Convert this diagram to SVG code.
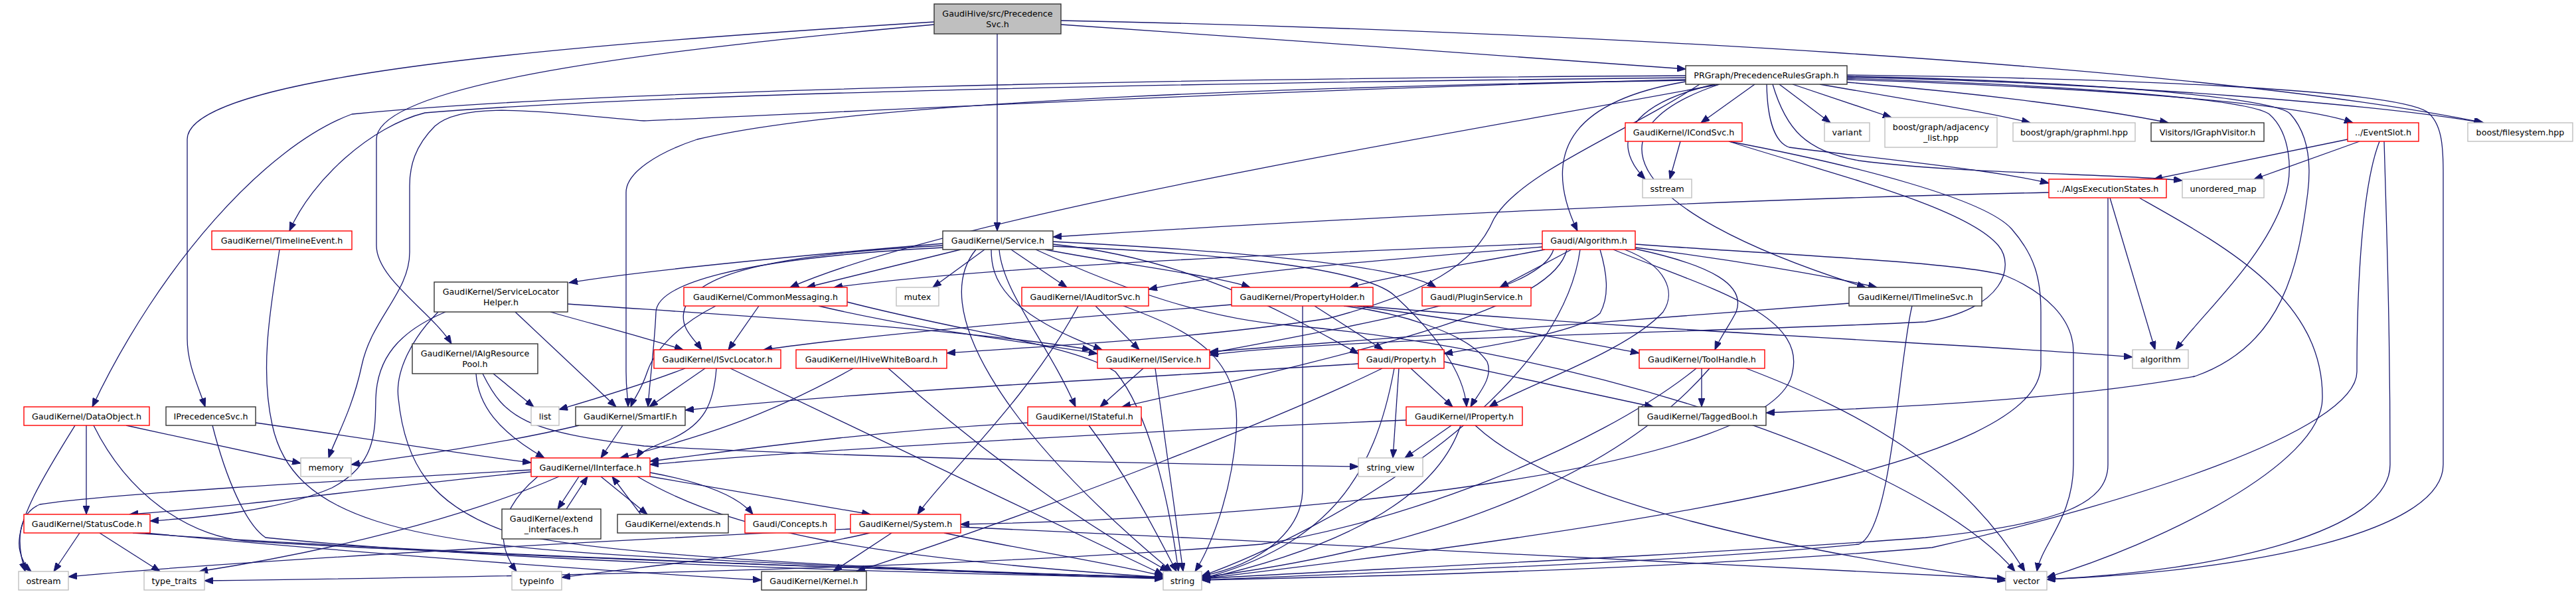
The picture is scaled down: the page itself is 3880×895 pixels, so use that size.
<svg xmlns="http://www.w3.org/2000/svg" width="3880" height="895" viewBox="0 0 3880 895">
<defs>
<marker id="a" markerWidth="14" markerHeight="10" refX="13" refY="5" orient="auto" markerUnits="userSpaceOnUse"><path d="M0,0 L13,5 L0,10 z" fill="#191970" stroke="#191970" stroke-width="1"/></marker>
<style>
.e path{fill:none;stroke:#191970;stroke-width:1.3;marker-end:url(#a)}
.n rect{fill:#fff;stroke:#333;stroke-width:1.4}
.r rect{stroke:#ff0000}
.g rect{stroke:#bfbfbf}
#n_psvc rect{fill:#bfbfbf}
text{font-family:"DejaVu Sans","Liberation Sans",sans-serif;font-size:12.7px;text-anchor:middle;fill:#000}
</style>
</defs>
<rect width="3880" height="895" fill="#fff"/>
<g id="edges" class="e">
<path d="M1598,37 C1900,58 2300,86 2539,104"/>
<path d="M1598,31 C2300,45 3300,95 3741,185"/>
<path d="M1502,51 L1502,348"/>
<path d="M1407,33 C900,65 282,110 282,210 L282,510 C282,550 300,585 309,613"/>
<path d="M1407,37 C1050,70 567,120 567,210 L567,370 C567,420 650,470 680,518"/>
<path d="M2590,127 C2200,200 1450,320 1190,433"/>
<path d="M2539,117 C1800,125 1000,140 640,170 C560,190 470,270 436,348"/>
<path d="M2539,114 C1800,118 900,135 530,172 C400,220 240,400 139,613"/>
<path d="M2539,120 C1900,135 1150,175 970,182 C820,170 700,150 655,190 C625,220 617,250 617,280 L617,380 C617,440 560,480 545,550 C530,620 505,660 495,690"/>
<path d="M2643,127 L2562,185"/>
<path d="M2680,127 L2757,185"/>
<path d="M2700,127 L2849,177"/>
<path d="M2741,127 C2860,148 2990,168 3058,185"/>
<path d="M2782,124 C2980,140 3170,165 3266,185"/>
<path d="M2782,120 C3100,130 3450,152 3544,185"/>
<path d="M2782,116 C3200,125 3600,160 3739,185"/>
<path d="M2583,127 C2460,155 2420,210 2478,270"/>
<path d="M2539,123 C2380,150 2315,220 2376,348"/>
<path d="M2590,127 C2400,190 2420,310 2810,433"/>
<path d="M2661,127 C2662,185 2675,215 2695,222 C2800,236 3000,255 3086,276"/>
<path d="M2670,127 C2690,195 2720,228 2800,242 C2950,262 3200,262 3287,272"/>
<path d="M2782,113 C3200,118 3600,135 3655,168 C3678,185 3680,220 3680,260 L3680,700 C3680,800 3400,860 3083,873"/>
<path d="M2782,118 C3100,128 3385,148 3418,172 C3450,200 3455,260 3440,300 C3410,390 3320,470 3277,527"/>
<path d="M2782,115 C3150,122 3430,148 3450,172 C3475,200 3482,240 3476,290 C3462,400 3440,520 3306,567 C3100,605 2800,616 2660,622"/>
<path d="M2560,127 C2450,200 2290,260 2250,330 C2220,400 2150,440 2000,480 C1800,510 1600,520 1426,532"/>
<path d="M2539,121 C2000,130 1300,150 1050,210 C990,230 943,260 943,290 L943,560 C943,590 946,600 946,613"/>
<path d="M1420,367 C1200,385 950,410 857,426"/>
<path d="M1420,370 C1130,385 1040,420 1030,470 C1025,495 1045,510 1057,527"/>
<path d="M1420,373 C1100,390 990,430 988,470 C986,520 978,580 976,613"/>
<path d="M1447,376 L1215,433"/>
<path d="M1483,376 L1405,433"/>
<path d="M1523,376 L1607,433"/>
<path d="M1574,376 C1700,400 1830,415 1883,433"/>
<path d="M1493,376 C1493,420 1510,470 1660,527"/>
<path d="M1505,376 C1510,440 1580,520 1620,613"/>
<path d="M1586,364 C1800,375 2100,395 2163,433"/>
<path d="M1586,368 C1800,390 1950,480 2046,533"/>
<path d="M1586,371 C1800,380 2050,400 2100,445 C2160,500 2205,560 2209,613"/>
<path d="M1470,376 C1400,460 1500,640 1765,861"/>
<path d="M1560,376 C1700,440 1820,480 1940,490 C2400,530 2900,700 3035,861"/>
<path d="M2323,367 C2000,380 1500,400 1256,433"/>
<path d="M2323,372 C2100,390 1850,410 1730,436"/>
<path d="M2327,376 C2200,400 2100,415 2033,433"/>
<path d="M2367,376 L2259,433"/>
<path d="M2463,373 C2600,390 2750,415 2827,433"/>
<path d="M2410,376 C2420,410 2425,445 2410,472 C2380,500 2250,520 2175,533"/>
<path d="M2447,376 C2510,400 2525,440 2505,470 C2450,530 2300,580 2243,613"/>
<path d="M2463,375 C2580,400 2630,430 2615,470 C2605,490 2590,510 2583,527"/>
<path d="M2340,376 C2320,440 2100,480 1822,532"/>
<path d="M2360,376 C2340,460 2100,520 1690,613"/>
<path d="M2380,376 C2350,600 2000,800 1810,868"/>
<path d="M2463,368 C2700,385 2950,395 3020,415 C3080,440 3123,480 3123,530 L3123,700 C3123,780 3075,820 3068,861"/>
<path d="M2430,376 C2560,430 2720,470 2700,560 C2680,700 2000,780 1447,790"/>
<path d="M2563,555 L2563,613"/>
<path d="M2555,555 C2400,680 2100,790 1900,820 C1400,860 700,870 308,875"/>
<path d="M2575,555 C2450,700 2200,820 1810,870"/>
<path d="M2630,555 C2800,620 2950,700 3050,861"/>
<path d="M2125,555 L2188,613"/>
<path d="M2107,555 L2098,690"/>
<path d="M2175,545 L2490,613"/>
<path d="M2046,548 C1700,570 1300,590 1032,618"/>
<path d="M2082,555 C1950,620 1600,760 1290,861"/>
<path d="M2100,555 C2070,720 2000,820 1810,872"/>
<path d="M2118,633 C1700,650 1200,680 979,700"/>
<path d="M2186,641 L2116,690"/>
<path d="M2200,641 C2160,760 2000,830 1810,873"/>
<path d="M2222,641 C2350,760 2700,830 3021,875"/>
<path d="M1980,461 L2083,527"/>
<path d="M2024,461 C2100,470 2210,500 2240,545 C2250,570 2225,595 2215,613"/>
<path d="M2040,461 C2200,480 2350,510 2469,532"/>
<path d="M2053,461 C2500,500 3000,520 3212,538"/>
<path d="M1855,459 C1600,480 1300,505 1150,527"/>
<path d="M1962,461 L1962,740 C1960,800 1900,850 1810,868"/>
<path d="M1143,461 L1097,527"/>
<path d="M1078,461 C1020,490 985,530 975,560 C965,590 955,600 950,613"/>
<path d="M1233,461 C1400,500 1550,515 1653,533"/>
<path d="M1276,455 C1450,500 1620,520 1680,560 C1730,620 1760,750 1775,861"/>
<path d="M1032,555 C980,575 900,600 842,617"/>
<path d="M1062,555 L978,613"/>
<path d="M1079,555 C1075,610 1060,640 1010,662 C985,672 965,680 959,690"/>
<path d="M1100,555 L1752,866"/>
<path d="M1285,555 C1150,630 1050,660 934,690"/>
<path d="M1338,555 C1500,700 1650,800 1760,861"/>
<path d="M1722,555 L1657,613"/>
<path d="M1740,555 L1782,861"/>
<path d="M1548,637 C1300,650 1100,680 979,695"/>
<path d="M1640,641 C1700,720 1740,800 1772,861"/>
<path d="M1650,461 L1716,527"/>
<path d="M1624,461 C1550,600 1420,720 1382,775"/>
<path d="M1692,461 C1800,500 1870,540 1862,650 C1855,750 1820,830 1800,861"/>
<path d="M2531,213 L2515,270"/>
<path d="M2604,213 C2750,260 2960,310 3010,370 C3035,400 3020,465 2900,485 C2600,500 2000,510 1822,535"/>
<path d="M2604,213 C2800,250 2990,300 3030,345 C3065,385 3074,420 3074,470 L3074,550 C3074,700 2500,790 1810,872"/>
<path d="M2785,457 C2500,480 2000,515 1822,530"/>
<path d="M2880,461 C2860,540 2850,800 2800,820 C2500,850 2000,865 1810,874"/>
<path d="M3086,290 C2600,300 2000,330 1586,357"/>
<path d="M3178,298 L3246,527"/>
<path d="M3222,298 C3350,370 3500,450 3498,600 C3498,700 3250,820 3083,870"/>
<path d="M3175,298 L3175,700 C3175,760 3100,790 2900,810 C2500,840 2000,860 1810,872"/>
<path d="M3536,210 L3244,270"/>
<path d="M3554,213 L3395,270"/>
<path d="M3584,213 C3550,300 3550,520 3550,560 C3550,650 3200,760 2910,825 C2500,860 2000,870 1810,874"/>
<path d="M3591,213 C3595,350 3600,500 3600,700 C3600,800 3350,860 3083,873"/>
<path d="M421,376 C410,450 390,550 410,640 C440,780 600,820 1000,840 C1400,860 1600,868 1752,872"/>
<path d="M829,470 C880,485 960,505 1029,527"/>
<path d="M855,458 C1100,475 1450,495 1643,527"/>
<path d="M776,470 L928,613"/>
<path d="M671,470 C600,500 568,540 566,600 C565,650 567,700 500,735 C420,770 300,780 226,785"/>
<path d="M660,470 C620,510 595,560 600,600 C610,700 650,760 760,800 C900,840 1400,860 1752,870"/>
<path d="M743,563 L804,613"/>
<path d="M717,563 C720,610 750,650 820,690"/>
<path d="M727,563 C760,630 790,650 970,672 C1300,690 1800,700 2046,703"/>
<path d="M130,641 L130,775"/>
<path d="M113,641 C70,710 20,790 30,830 C33,845 40,855 47,861"/>
<path d="M190,641 L453,698"/>
<path d="M141,641 C200,760 300,810 370,815 C600,830 1200,855 1752,870"/>
<path d="M385,637 C550,660 700,685 800,697"/>
<path d="M320,641 C340,720 370,790 400,810 C700,840 1200,860 1752,871"/>
<path d="M938,641 L905,690"/>
<path d="M872,641 C750,670 600,690 529,700"/>
<path d="M800,708 C500,725 150,745 60,760 C25,775 25,820 38,861"/>
<path d="M800,711 C600,730 400,760 195,775"/>
<path d="M842,718 C700,780 500,830 300,861"/>
<path d="M810,718 C760,760 740,810 778,861"/>
<path d="M872,718 L840,767"/>
<path d="M853,767 L885,718"/>
<path d="M965,775 L922,718"/>
<path d="M905,718 L975,775"/>
<path d="M979,712 C1050,725 1110,745 1134,775"/>
<path d="M979,718 L1311,775"/>
<path d="M960,718 C1100,800 1300,840 1752,870"/>
<path d="M120,803 L81,861"/>
<path d="M150,803 L241,861"/>
<path d="M219,803 C500,830 900,860 1147,874"/>
<path d="M200,803 C600,830 1200,855 1752,870"/>
<path d="M1343,803 L1255,861"/>
<path d="M1422,803 C1550,830 1680,850 1752,868"/>
<path d="M1310,803 C1200,830 1000,850 846,870"/>
<path d="M1447,794 C2000,820 2600,850 3021,872"/>
<path d="M1281,797 C800,820 300,850 103,869"/>
</g>
<g id="n_psvc" class="n"><rect x="1407" y="6" width="191" height="45"/><text x="1502.5" y="25">GaudiHive/src/Precedence</text><text x="1502.5" y="41">Svc.h</text></g>
<g id="n_prg" class="n"><rect x="2539" y="99" width="243" height="28"/><text x="2660.5" y="118">PRGraph/PrecedenceRulesGraph.h</text></g>
<g id="n_icond" class="n r"><rect x="2448" y="185" width="176" height="28"/><text x="2536" y="204">GaudiKernel/ICondSvc.h</text></g>
<g id="n_variant" class="n g"><rect x="2748" y="185" width="68" height="28"/><text x="2782" y="204">variant</text></g>
<g id="n_adj" class="n g"><rect x="2839" y="177" width="169" height="45"/><text x="2923.5" y="196">boost/graph/adjacency</text><text x="2923.5" y="212">_list.hpp</text></g>
<g id="n_graphml" class="n g"><rect x="3032" y="185" width="184" height="28"/><text x="3124" y="204">boost/graph/graphml.hpp</text></g>
<g id="n_igv" class="n"><rect x="3240" y="185" width="170" height="28"/><text x="3325" y="204">Visitors/IGraphVisitor.h</text></g>
<g id="n_evslot" class="n r"><rect x="3536" y="185" width="107" height="28"/><text x="3589.5" y="204">../EventSlot.h</text></g>
<g id="n_fs" class="n g"><rect x="3717" y="185" width="158" height="28"/><text x="3796" y="204">boost/filesystem.hpp</text></g>
<g id="n_sstream" class="n g"><rect x="2474" y="270" width="74" height="28"/><text x="2511" y="289">sstream</text></g>
<g id="n_aes" class="n r"><rect x="3086" y="270" width="177" height="28"/><text x="3174.5" y="289">../AlgsExecutionStates.h</text></g>
<g id="n_umap" class="n g"><rect x="3287" y="270" width="123" height="28"/><text x="3348.5" y="289">unordered_map</text></g>
<g id="n_tle" class="n r"><rect x="319" y="348" width="211" height="28"/><text x="424.5" y="367">GaudiKernel/TimelineEvent.h</text></g>
<g id="n_svc" class="n"><rect x="1420" y="348" width="166" height="28"/><text x="1503" y="367">GaudiKernel/Service.h</text></g>
<g id="n_alg" class="n r"><rect x="2323" y="348" width="140" height="28"/><text x="2393" y="367">Gaudi/Algorithm.h</text></g>
<g id="n_slh" class="n"><rect x="654" y="425" width="201" height="45"/><text x="754.5" y="444">GaudiKernel/ServiceLocator</text><text x="754.5" y="460">Helper.h</text></g>
<g id="n_cm" class="n r"><rect x="1030" y="433" width="246" height="28"/><text x="1153" y="452">GaudiKernel/CommonMessaging.h</text></g>
<g id="n_mutex" class="n g"><rect x="1350" y="433" width="64" height="28"/><text x="1382" y="452">mutex</text></g>
<g id="n_ias" class="n r"><rect x="1539" y="433" width="191" height="28"/><text x="1634.5" y="452">GaudiKernel/IAuditorSvc.h</text></g>
<g id="n_ph" class="n r"><rect x="1855" y="433" width="213" height="28"/><text x="1961.5" y="452">GaudiKernel/PropertyHolder.h</text></g>
<g id="n_plugin" class="n r"><rect x="2142" y="433" width="164" height="28"/><text x="2224" y="452">Gaudi/PluginService.h</text></g>
<g id="n_itl" class="n"><rect x="2785" y="433" width="200" height="28"/><text x="2885" y="452">GaudiKernel/ITimelineSvc.h</text></g>
<g id="n_iarp" class="n"><rect x="621" y="518" width="189" height="45"/><text x="715.5" y="537">GaudiKernel/IAlgResource</text><text x="715.5" y="553">Pool.h</text></g>
<g id="n_isl" class="n r"><rect x="985" y="527" width="191" height="28"/><text x="1080.5" y="546">GaudiKernel/ISvcLocator.h</text></g>
<g id="n_ihwb" class="n r"><rect x="1199" y="527" width="227" height="28"/><text x="1312.5" y="546">GaudiKernel/IHiveWhiteBoard.h</text></g>
<g id="n_isvc" class="n r"><rect x="1653" y="527" width="169" height="28"/><text x="1737.5" y="546">GaudiKernel/IService.h</text></g>
<g id="n_prop" class="n r"><rect x="2046" y="527" width="129" height="28"/><text x="2110.5" y="546">Gaudi/Property.h</text></g>
<g id="n_th" class="n r"><rect x="2469" y="527" width="189" height="28"/><text x="2563.5" y="546">GaudiKernel/ToolHandle.h</text></g>
<g id="n_algo" class="n g"><rect x="3212" y="527" width="84" height="28"/><text x="3254" y="546">algorithm</text></g>
<g id="n_do" class="n r"><rect x="36" y="613" width="189" height="28"/><text x="130.5" y="632">GaudiKernel/DataObject.h</text></g>
<g id="n_ipsvc" class="n"><rect x="250" y="613" width="135" height="28"/><text x="317.5" y="632">IPrecedenceSvc.h</text></g>
<g id="n_list" class="n g"><rect x="800" y="613" width="42" height="28"/><text x="821" y="632">list</text></g>
<g id="n_sif" class="n"><rect x="867" y="613" width="165" height="28"/><text x="949.5" y="632">GaudiKernel/SmartIF.h</text></g>
<g id="n_ist" class="n r"><rect x="1548" y="613" width="171" height="28"/><text x="1633.5" y="632">GaudiKernel/IStateful.h</text></g>
<g id="n_iprop" class="n r"><rect x="2118" y="613" width="175" height="28"/><text x="2205.5" y="632">GaudiKernel/IProperty.h</text></g>
<g id="n_tb" class="n"><rect x="2468" y="613" width="192" height="28"/><text x="2564" y="632">GaudiKernel/TaggedBool.h</text></g>
<g id="n_memory" class="n g"><rect x="453" y="690" width="76" height="28"/><text x="491" y="709">memory</text></g>
<g id="n_iint" class="n r"><rect x="800" y="690" width="179" height="28"/><text x="889.5" y="709">GaudiKernel/IInterface.h</text></g>
<g id="n_sv" class="n g"><rect x="2046" y="690" width="97" height="28"/><text x="2094.5" y="709">string_view</text></g>
<g id="n_sc" class="n r"><rect x="36" y="775" width="190" height="28"/><text x="131" y="794">GaudiKernel/StatusCode.h</text></g>
<g id="n_ext" class="n"><rect x="756" y="767" width="149" height="45"/><text x="830.5" y="786">GaudiKernel/extend</text><text x="830.5" y="802">_interfaces.h</text></g>
<g id="n_exts" class="n"><rect x="930" y="775" width="167" height="28"/><text x="1013.5" y="794">GaudiKernel/extends.h</text></g>
<g id="n_conc" class="n r"><rect x="1122" y="775" width="136" height="28"/><text x="1190" y="794">Gaudi/Concepts.h</text></g>
<g id="n_sys" class="n r"><rect x="1281" y="775" width="166" height="28"/><text x="1364" y="794">GaudiKernel/System.h</text></g>
<g id="n_ostream" class="n g"><rect x="28" y="861" width="75" height="28"/><text x="65.5" y="880">ostream</text></g>
<g id="n_tt" class="n g"><rect x="217" y="861" width="91" height="28"/><text x="262.5" y="880">type_traits</text></g>
<g id="n_typeinfo" class="n g"><rect x="771" y="861" width="75" height="28"/><text x="808.5" y="880">typeinfo</text></g>
<g id="n_kernel" class="n"><rect x="1147" y="861" width="158" height="28"/><text x="1226" y="880">GaudiKernel/Kernel.h</text></g>
<g id="n_string" class="n g"><rect x="1752" y="861" width="58" height="28"/><text x="1781" y="880">string</text></g>
<g id="n_vector" class="n g"><rect x="3021" y="861" width="62" height="28"/><text x="3052" y="880">vector</text></g>
</svg>
